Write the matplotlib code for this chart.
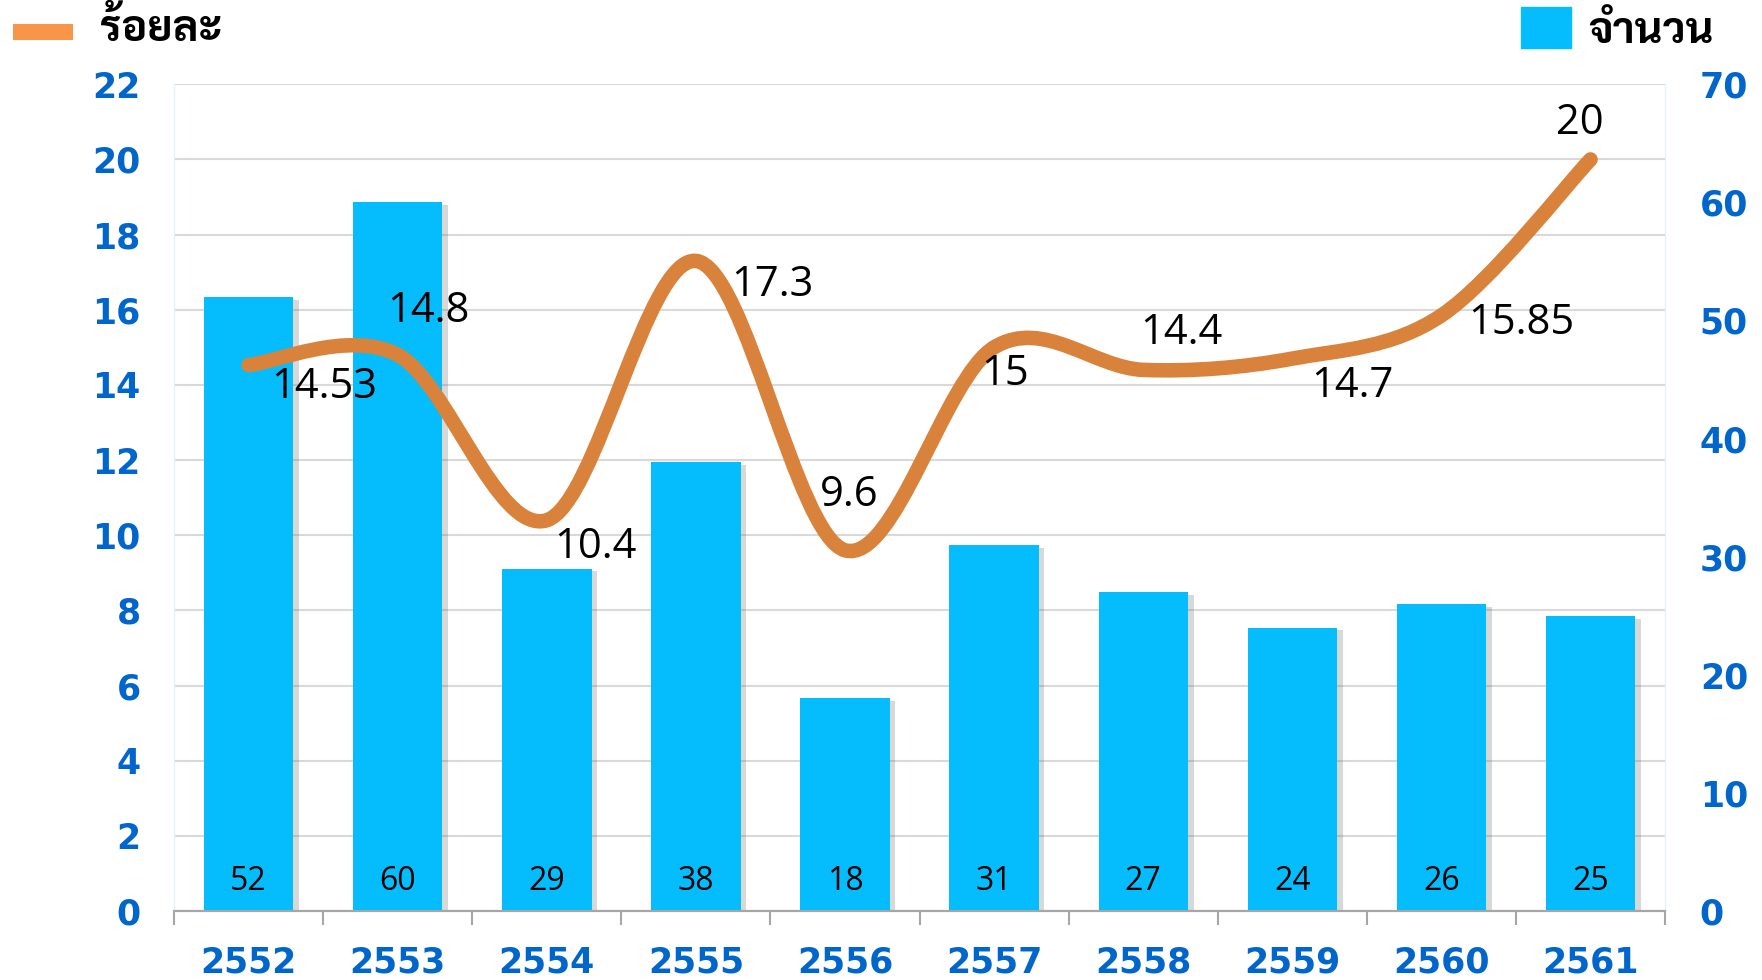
import matplotlib
matplotlib.use("Agg")
import matplotlib.pyplot as plt
import matplotlib.patheffects as pe
from matplotlib.path import Path
from matplotlib.patches import PathPatch, Rectangle
from matplotlib.lines import Line2D
import numpy as np

years = ['2552', '2553', '2554', '2555', '2556', '2557', '2558', '2559', '2560', '2561']
counts = [52, 60, 29, 38, 18, 31, 27, 24, 26, 25]
percent = [14.53, 14.8, 10.4, 17.3, 9.6, 15, 14.4, 14.7, 15.85, 20]
percent_labels = ['14.53', '14.8', '10.4', '17.3', '9.6', '15', '14.4', '14.7', '15.85', '20']

# label offsets in pixels (x, y)
offs = [(76, -22), (31, 44), (49, -27), (76, -24), (4, 55),
        (11, -27), (38, 37), (60, -27), (80, -8), (-11, 36)]

blue = '#05BCFD'
orange = '#D9823B'
tickblue = '#0066CC'

fig = plt.figure(figsize=(17.62, 9.8), dpi=100)
ax = fig.add_axes([0.0988, 0.0704, 0.8462, 0.8436])
ax2 = ax.twinx()

x = np.arange(len(years))

# bars on right axis
bars = ax2.bar(x, counts, width=0.6, color=blue, zorder=2)
for b in bars:
    b.set_path_effects([pe.SimplePatchShadow(offset=(4, -2), shadow_rgbFace='#666666', alpha=0.25), pe.Normal()])
for i, c in enumerate(counts):
    ax2.annotate(str(c), (x[i], 0), xytext=(0, 30), textcoords='offset pixels',
                 ha='center', va='center', fontsize=23, family='Open Sans', color='black', zorder=5)
ax2.set_ylim(0, 70)
ax2.set_yticks(range(0, 71, 10))

ax.set_ylim(0, 22)
ax.set_yticks(range(0, 23, 2))
ax.set_xlim(-0.5, 9.5)
ax.grid(axis='y', color='#D9D9D9', linewidth=1.5)
ax.set_axisbelow(True)

# smooth line (bezier like excel)
pts = np.column_stack([x, percent])
verts = [pts[0]]
codes = [Path.MOVETO]
n = len(pts)
for i in range(n - 1):
    p0 = pts[max(i - 1, 0)]
    p1 = pts[i]
    p2 = pts[i + 1]
    p3 = pts[min(i + 2, n - 1)]
    c1 = p1 + (p2 - p0) / 6
    c2 = p2 - (p3 - p1) / 6
    verts += [c1, c2, p2]
    codes += [Path.CURVE4] * 3
ax3 = ax.twinx()
ax3.set_ylim(0, 22)
ax3.axis('off')
ax3.add_patch(PathPatch(Path(verts, codes), fill=False, edgecolor=orange, lw=10.5,
                        capstyle='round', joinstyle='round', zorder=4))
for i, t in enumerate(percent_labels):
    ax3.annotate(t, (x[i], percent[i]), xytext=offs[i], textcoords='offset pixels',
                 ha='center', va='center', fontsize=30, family='Open Sans', color='black', zorder=6)

ax.set_xticks(x)
ax.set_xticklabels(years)
ax.set_xticks(np.arange(-0.5, 10, 1), minor=True)
ax.tick_params(axis='x', which='major', length=0, pad=25)
ax.tick_params(axis='x', which='minor', length=10, width=1.5, color='#A6A6A6')
ax.tick_params(axis='y', length=0, pad=24)
ax2.tick_params(axis='y', length=0, pad=25)
for lab in ax.get_xticklabels() + ax.get_yticklabels() + ax2.get_yticklabels():
    lab.set_fontsize(25)
    lab.set_fontweight('bold')
    lab.set_color(tickblue)

for a in (ax, ax2, ax3):
    a.spines['top'].set_visible(False)
for a in (ax, ax2):
    a.spines['left'].set_color('#E3F1F8')
    a.spines['right'].set_color('#E3F1F8')
    a.spines['bottom'].set_color('#A6A6A6')
    a.spines['bottom'].set_linewidth(1.5)

# legend
fig.add_artist(Line2D([13 / 1762, 73 / 1762], [1 - 32 / 980] * 2, color='#F79646', lw=11.5,
                      solid_capstyle='butt', transform=fig.transFigure))
fig.text(100 / 1762, 1 - 30 / 980, 'ร้อยละ', fontsize=31, fontweight='bold',
         family=['Sarabun', 'DejaVu Sans'], va='center', ha='left')
fig.add_artist(Rectangle((1521 / 1762, 1 - 48 / 980), 50 / 1762, 41 / 980, color=blue,
                         transform=fig.transFigure))
fig.text(1588 / 1762, 1 - 32 / 980, 'จำนวน', fontsize=31, fontweight='bold',
         family=['Sarabun', 'DejaVu Sans'], va='center', ha='left')

fig.savefig('out.png', dpi=100)
